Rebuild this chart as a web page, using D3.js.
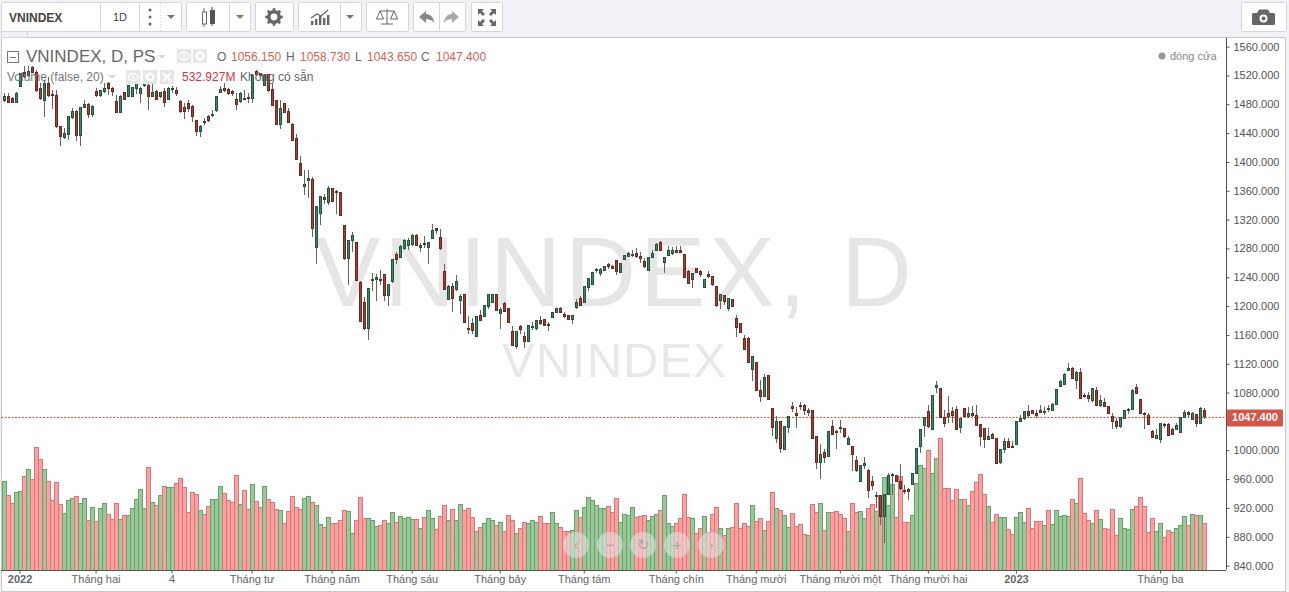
<!DOCTYPE html>
<html><head><meta charset="utf-8">
<script src="https://cdn.jsdelivr.net/npm/d3@7"></script>
<style>
html,body{margin:0;padding:0;background:#f1f2f6;overflow:hidden}
svg{display:block;font-family:"Liberation Sans",Arial,sans-serif}
</style></head><body>
<svg id="c" width="1289" height="592"></svg>
<script>
const open=[
1486,1492,1489,1483,1505,1525,1520,1532,1525,1502,
1486,1509,1494,1493,1450,1434,1439,1462,1471,1437,
1476,1480,1467,1498,1493,1498,1509,1502,1484,1469,
1497,1491,1492,1502,1495,1506,1506,1491,1498,1491,
1498,1487,1502,1499,1485,1476,1482,1477,1458,1443,
1457,1464,1465,1472,1497,1502,1501,1498,1487,1484,
1489,1490,1489,1526,1523,1507,1522,1501,1486,1452,
1481,1470,1453,1433,1399,1366,1375,1376,1282,1329,
1351,1344,1364,1359,1358,1312,1266,1292,1289,1233,
1206,1169,1237,1237,1238,1244,1215,1235,1272,1268,
1281,1285,1286,1298,1282,1288,1282,1294,1308,1296,
1249,1210,1228,1223,1208,1216,1170,1177,1158,1187,
1186,1200,1205,1216,1190,1204,1197,1165,1145,1172,
1159,1152,1171,1170,1181,1182,1175,1185,1192,1197,
1189,1187,1182,1198,1211,1205,1227,1230,1250,1246,
1250,1258,1256,1264,1247,1265,1270,1271,1273,1270,
1262,1250,1268,1277,1289,1261,1271,1273,1278,1277,
1272,1249,1238,1253,1249,1226,1245,1241,1228,1209,
1215,1197,1210,1184,1176,1156,1155,1113,1122,1084,
1075,1104,1059,1017,1040,1002,1032,1061,1051,1063,
1062,1053,1056,1019,983,998,992,1034,1027,1032,
1031,1008,1006,987,957,980,972,957,936,938,
908,939,965,966,957,945,946,953,969,1006,
1035,1055,1030,1087,1086,1046,1052,1055,1057,1032,
1059,1047,1052,1049,1036,1031,1015,1022,1017,983,
1001,1013,1006,1009,1040,1044,1054,1056,1052,1056,
1053,1059,1056,1064,1089,1092,1111,1114,1097,1109,
1077,1076,1069,1084,1062,1067,1061,1048,1041,1033,
1045,1056,1057,1088,1071,1052,1049,1027,1017,1015,
1036,1036,1030,1030,1025,1046,1053,1043,1050,1038,
1056.15];
const high=[
1496,1496,1490,1497,1524,1534,1534,1534,1528,1510,
1514,1519,1500,1501,1450,1447,1464,1475,1473,1477,
1487,1483,1480,1503,1500,1510,1511,1505,1493,1493,
1498,1507,1505,1513,1505,1517,1514,1519,1500,1498,
1503,1504,1506,1504,1487,1483,1486,1480,1459,1452,
1461,1466,1472,1492,1506,1510,1503,1500,1496,1497,
1501,1496,1523,1528,1524,1523,1523,1510,1487,1487,
1483,1476,1454,1439,1409,1389,1390,1379,1339,1353,
1356,1367,1364,1361,1358,1312,1291,1303,1289,1236,
1213,1225,1247,1245,1250,1244,1231,1265,1276,1285,
1293,1295,1300,1300,1288,1298,1290,1314,1309,1307,
1259,1230,1232,1244,1218,1218,1187,1184,1187,1195,
1201,1218,1218,1218,1200,1206,1198,1173,1165,1175,
1165,1174,1179,1180,1187,1182,1179,1193,1198,1200,
1193,1187,1188,1211,1214,1228,1240,1248,1254,1253,
1256,1260,1258,1265,1260,1272,1275,1278,1281,1275,
1267,1268,1278,1288,1291,1269,1284,1282,1284,1284,
1273,1250,1247,1254,1251,1238,1249,1242,1228,1216,
1216,1211,1210,1188,1177,1160,1157,1132,1123,1098,
1107,1105,1059,1048,1040,1033,1048,1067,1061,1068,
1065,1059,1057,1019,1009,1002,1026,1043,1029,1042,
1032,1020,1007,993,980,991,975,965,943,938,
940,969,969,966,982,952,948,969,1003,1030,
1046,1063,1077,1097,1086,1057,1076,1060,1062,1046,
1059,1060,1062,1063,1036,1031,1031,1025,1017,1003,
1017,1018,1014,1041,1049,1055,1063,1057,1057,1063,
1060,1063,1066,1085,1098,1108,1121,1116,1110,1114,
1080,1082,1087,1089,1077,1073,1062,1052,1045,1047,
1057,1059,1086,1092,1071,1053,1052,1029,1030,1039,
1039,1038,1031,1039,1046,1056,1055,1053,1051,1060,
1058.73];
const low=[
1484,1482,1482,1482,1504,1517,1518,1524,1498,1487,
1463,1491,1474,1447,1423,1432,1431,1460,1430,1423,
1475,1462,1463,1491,1490,1496,1493,1492,1468,1468,
1487,1490,1491,1495,1482,1504,1472,1490,1486,1489,
1477,1487,1496,1492,1469,1460,1470,1456,1437,1435,
1452,1456,1463,1470,1496,1498,1494,1492,1472,1483,
1486,1483,1482,1520,1517,1506,1498,1478,1452,1446,
1468,1454,1429,1403,1382,1355,1350,1297,1259,1313,
1342,1341,1345,1329,1326,1264,1230,1276,1236,1179,
1168,1154,1221,1208,1230,1207,1201,1232,1259,1267,
1279,1278,1284,1284,1275,1281,1259,1293,1300,1279,
1223,1209,1193,1221,1190,1178,1162,1162,1158,1181,
1186,1197,1205,1194,1169,1192,1178,1146,1141,1162,
1143,1151,1168,1168,1175,1173,1166,1184,1191,1191,
1184,1182,1176,1197,1202,1205,1222,1230,1246,1243,
1249,1252,1252,1244,1247,1264,1269,1269,1267,1261,
1253,1250,1267,1277,1278,1247,1271,1272,1274,1274,
1240,1231,1226,1246,1241,1226,1240,1229,1199,1197,
1202,1194,1199,1157,1164,1140,1123,1097,1083,1068,
1074,1071,1021,1011,997,1001,1024,1053,1032,1056,
1050,1048,1016,975,961,983,991,1023,1002,1024,
1017,1008,972,971,956,975,934,945,920,897,
872,939,939,956,945,940,932,953,969,997,
1019,1032,1030,1080,1046,1033,1038,1038,1030,1024,
1046,1046,1047,1034,1007,1004,1015,1016,982,982,
997,1005,1005,1009,1040,1043,1045,1051,1045,1052,
1049,1054,1055,1064,1088,1092,1110,1099,1086,1072,
1073,1068,1068,1062,1061,1060,1051,1030,1030,1032,
1044,1051,1056,1079,1051,1030,1036,1017,1017,1011,
1032,1020,1022,1030,1025,1045,1045,1042,1033,1037,
1043.65];
const close=[
1492,1483,1483,1496,1523,1519,1526,1525,1500,1489,
1509,1493,1493,1450,1436,1440,1463,1471,1437,1476,
1480,1467,1477,1493,1499,1503,1503,1498,1469,1491,
1487,1506,1504,1509,1502,1511,1491,1497,1487,1497,
1483,1503,1503,1495,1470,1470,1475,1463,1443,1450,
1456,1458,1467,1492,1501,1499,1495,1495,1480,1496,
1487,1488,1521,1522,1520,1521,1499,1479,1453,1475,
1469,1455,1430,1404,1382,1369,1377,1308,1339,1352,
1348,1364,1345,1358,1326,1266,1291,1299,1236,1179,
1169,1225,1238,1240,1237,1215,1231,1265,1265,1283,
1292,1291,1298,1285,1285,1287,1289,1306,1305,1280,
1223,1228,1211,1234,1214,1178,1169,1167,1186,1181,
1201,1216,1216,1194,1196,1193,1178,1146,1165,1168,
1152,1173,1172,1180,1176,1173,1174,1192,1197,1192,
1186,1182,1188,1206,1202,1228,1239,1247,1252,1251,
1255,1255,1253,1248,1260,1271,1273,1272,1270,1266,
1256,1268,1274,1286,1278,1268,1277,1278,1275,1275,
1240,1232,1246,1247,1245,1238,1242,1230,1202,1216,
1207,1211,1200,1171,1164,1140,1123,1130,1083,1075,
1102,1071,1032,1040,1003,1033,1048,1058,1049,1061,
1056,1056,1017,983,995,990,1026,1023,1026,1031,
1019,1017,994,972,979,982,945,951,938,908,
939,966,967,957,948,943,944,969,1003,1030,
1046,1033,1077,1091,1046,1037,1047,1049,1030,1045,
1047,1052,1049,1035,1019,1016,1020,1017,982,1002,
1013,1005,1005,1041,1044,1054,1049,1052,1049,1053,
1054,1057,1064,1085,1096,1106,1114,1100,1109,1072,
1075,1073,1086,1063,1070,1061,1051,1041,1034,1046,
1056,1057,1084,1079,1051,1050,1036,1018,1021,1038,
1035,1021,1023,1035,1046,1053,1050,1051,1037,1059,
1047.4];
const volume=[
1012,852,761,886,898,1069,1149,1035,1400,1263,
1149,1012,795,1000,749,647,795,818,841,761,
818,567,715,555,704,761,635,578,761,578,
624,624,704,806,921,704,1172,772,738,852,
955,943,943,989,1046,943,658,886,864,681,
635,727,806,806,955,875,795,772,1080,749,
909,692,978,784,715,955,806,772,692,681,
533,670,841,715,692,818,841,772,738,521,
487,601,533,533,567,681,670,418,567,829,
590,590,567,498,510,567,533,658,544,612,
590,601,578,578,476,601,681,590,464,612,
738,567,692,567,749,681,704,601,441,487,
533,590,567,510,544,441,624,567,418,476,
544,533,567,544,612,533,533,658,533,487,
441,441,453,681,601,715,829,795,738,704,
704,727,658,818,544,635,624,715,601,612,
624,567,612,635,681,852,533,498,533,590,
864,601,590,418,476,612,430,635,715,476,
396,476,487,761,476,533,498,738,555,590,
453,555,886,704,681,624,487,647,498,521,
407,396,749,658,761,453,658,658,670,628,
593,445,761,658,670,590,704,749,670,852,
1058,738,978,601,1069,544,544,624,989,1194,
1160,1366,1103,1274,1503,932,932,795,921,806,
806,738,898,1000,1092,864,727,544,635,601,
601,464,407,601,658,544,704,476,555,555,
510,681,521,681,612,624,612,806,761,1046,
647,567,533,681,578,476,464,692,396,590,
476,464,692,727,829,727,430,590,441,533,
373,453,430,476,510,612,510,635,624,624,
532.927];
const priceTicks=[840,880,920,960,1000,1080,1120,1160,1200,1240,1280,1320,1360,1400,1440,1480,1520,1560];
const timeTickIndex=[4,23,42,62,82,102,124,145,168,188,209,231,253,289];
const timeTickLabels=["2022","Tháng hai","4","Tháng tư","Tháng năm","Tháng sáu","Tháng bảy","Tháng tám","Tháng chín","Tháng mười","Tháng mười một","Tháng mười hai","2023","Tháng ba"];
const boldLabels=["2022","2023"];
const lastClose=1047.4;

const svg=d3.select("#c");
const x=d3.scaleLinear().domain([0,300]).range([3.5,1204]);
const y=d3.scaleLinear().domain([840,1560]).range([566,47]);
const v=d3.scaleLinear().domain([0,532.927]).range([570,523.3]);
const idx=d3.range(open.length);
const up=i=>close[i]>=open[i];

// page and pane
svg.append("rect").attr("width",1289).attr("height",592).attr("fill","#f1f2f6");
svg.append("rect").attr("x",1.5).attr("y",37.5).attr("width",1284).attr("height",554).attr("fill","#fff").attr("stroke","#c9c9c9");

// watermarks
svg.append("text").attr("x",315).attr("y",306).attr("font-size",98).attr("letter-spacing",4).attr("fill","#e6e6e6").text("VNINDEX, D");
svg.append("text").attr("x",502).attr("y",377).attr("font-size",49).attr("letter-spacing",1).attr("fill","#e8e8e8").text("VNINDEX");

// volume
svg.append("g").selectAll("rect").data(idx).join("rect")
 .attr("x",i=>Math.round(x(i))-2+.5).attr("width",4)
 .attr("y",i=>v(volume[i])).attr("height",i=>570-v(volume[i]))
 .attr("fill",i=>up(i)?"#5aa85a":"#ff6666").attr("fill-opacity",.62)
 .attr("stroke",i=>up(i)?"#6d9f6d":"#d27a7a").attr("stroke-width",1)
 .attr("shape-rendering","crispEdges");

// last price line
svg.append("line").attr("x1",1).attr("x2",1226).attr("y1",417.5).attr("y2",417.5)
 .attr("stroke","#c4503f").attr("stroke-dasharray","2,1.5")
 .attr("transform",`translate(0,${y(lastClose)-416.6})`);

// candles
const cg=svg.append("g").attr("shape-rendering","crispEdges");
cg.selectAll("line").data(idx).join("line")
 .attr("x1",i=>Math.round(x(i))+.5).attr("x2",i=>Math.round(x(i))+.5)
 .attr("y1",i=>y(high[i])).attr("y2",i=>y(low[i])).attr("stroke","#6a6258");
cg.selectAll("rect").data(idx).join("rect")
 .attr("x",i=>Math.round(x(i))-.5).attr("width",2)
 .attr("y",i=>y(Math.max(open[i],close[i]))).attr("height",i=>Math.max(1,Math.abs(y(open[i])-y(close[i]))))
 .attr("fill",i=>up(i)?"#3a8a60":"#b23a30")
 .attr("stroke",i=>up(i)?"#24523f":"#642a25");

// axes
const yAxis=svg.append("g").attr("transform","translate(1226.5,-0.4)").call(d3.axisRight(y).tickValues(priceTicks).tickFormat(d3.format(".3f")).tickSize(3).tickPadding(4));
yAxis.select(".domain").attr("d","M0,38V570").attr("stroke","#555");
yAxis.selectAll(".tick line").attr("stroke","#555");
yAxis.selectAll("text").attr("font-size",11).attr("font-family","Liberation Sans").attr("fill","#555");

const xAxis=svg.append("g").attr("transform","translate(0,570.5)").call(d3.axisBottom(x).tickValues(timeTickIndex).tickFormat((d,i)=>timeTickLabels[i]).tickSize(3).tickPadding(2));
xAxis.select(".domain").attr("d","M1,0H1226").attr("stroke","#555");
xAxis.selectAll(".tick line").attr("stroke","#555");
xAxis.selectAll("text").attr("font-size",11).attr("font-family","Liberation Sans").attr("fill","#666")
 .attr("font-weight",(d,i)=>boldLabels.includes(timeTickLabels[i])?"bold":"normal");

// last price tag
svg.append("rect").attr("x",1227).attr("y",y(lastClose)-7).attr("width",56).attr("height",17).attr("rx",1).attr("fill","#d4564a");
svg.append("text").attr("x",1255).attr("y",y(lastClose)+5).attr("text-anchor","middle").attr("font-size",11).attr("font-weight","bold").attr("fill","#fff").text(d3.format(".3f")(lastClose));

// legend
const txt=(xp,yp,s,size,fill,extra)=>{const t=svg.append("text").attr("x",xp).attr("y",yp).attr("font-size",size).attr("fill",fill).text(s);if(extra)t.attr("font-weight",extra);return t;};
svg.append("rect").attr("x",7.5).attr("y",51.5).attr("width",11).attr("height",11).attr("fill","none").attr("stroke","#777");
svg.append("line").attr("x1",10).attr("x2",16).attr("y1",57.5).attr("y2",57.5).attr("stroke","#777");
txt(26,62,"VNINDEX, D, PS",17,"#666");
const caret=(cx,cy,c)=>svg.append("path").attr("d",`M${cx-4},${cy-2}h8l-4,4z`).attr("fill",c);
caret(162,57,"#d8d8d8");
const ibtn=(bx,by,kind)=>{
 svg.append("rect").attr("x",bx).attr("y",by).attr("width",14).attr("height",14).attr("fill","#e6e6e6");
 if(kind==="eye"){svg.append("ellipse").attr("cx",bx+7).attr("cy",by+7).attr("rx",5).attr("ry",3.5).attr("fill","none").attr("stroke","#fff").attr("stroke-width",1.4);svg.append("circle").attr("cx",bx+7).attr("cy",by+7).attr("r",1.5).attr("fill","#fff");}
 if(kind==="gear"){svg.append("circle").attr("cx",bx+7).attr("cy",by+7).attr("r",3.4).attr("fill","none").attr("stroke","#fff").attr("stroke-width",2.2);}
 if(kind==="x"){svg.append("path").attr("d",`M${bx+3},${by+3}l8,8m0,-8l-8,8`).attr("stroke","#fff").attr("stroke-width",1.8);}
};
ibtn(177,49,"eye");ibtn(193,49,"gear");
txt(217,61,"O",12,"#666");txt(231,61,"1056.150",12,"#d95f55");
txt(286,61,"H",12,"#666");txt(300,61,"1058.730",12,"#d95f55");
txt(355,61,"L",12,"#666");txt(367,61,"1043.650",12,"#d95f55");
txt(421,61,"C",12,"#666");txt(436,61,"1047.400",12,"#d95f55");
txt(7,81,"Volume (false, 20)",12,"#777");
caret(112,77,"#d8d8d8");
ibtn(126,70,"eye");ibtn(143,70,"gear");ibtn(160,70,"x");
txt(182,81,"532.927M",12,"#d0344a");
txt(240,81,"Không có sẵn",12,"#666");
svg.append("circle").attr("cx",1162).attr("cy",56).attr("r",3.5).attr("fill","#999");
txt(1170,59.5,"đóng cửa",11,"#888");

// zoom buttons
const btnX=[576,610,643,677,711], btnG=["‹","−","↻","+","›"];
svg.append("g").selectAll("g").data(btnX).join("g").each(function(d,i){
 const g=d3.select(this);
 g.append("circle").attr("cx",d).attr("cy",545).attr("r",13).attr("fill","#e4e4e4").attr("fill-opacity",.55);
 g.append("text").attr("x",d).attr("y",550).attr("text-anchor","middle").attr("font-size",15).attr("fill","#aaa").text(btnG[i]);
});

// toolbar
const box=(bx,w,by=2.5,h=29)=>svg.append("rect").attr("x",bx+.5).attr("y",by).attr("width",w).attr("height",h).attr("fill","#fff").attr("stroke","#d4d6db").attr("rx",1);
const div=(dx,dash)=>{const l=svg.append("line").attr("x1",dx+.5).attr("x2",dx+.5).attr("y1",3).attr("y2",31).attr("stroke","#d4d6db");if(dash)l.attr("stroke-dasharray","1,2");};
box(1,180);div(100);div(139);div(160,true);
txt(9,22,"VNINDEX",12,"#444","bold");
txt(113,21,"1D",11,"#444");
[10,17,24].forEach(dy=>svg.append("circle").attr("cx",150).attr("cy",dy).attr("r",1.5).attr("fill","#666"));
caret(171,17,"#777");
box(186,64);div(229);
svg.append("line").attr("x1",204).attr("x2",204).attr("y1",8).attr("y2",27).attr("stroke","#666");
svg.append("rect").attr("x",202.5).attr("y",12).attr("width",4).attr("height",12).attr("fill","#fff").attr("stroke","#666");
svg.append("line").attr("x1",212).attr("x2",212).attr("y1",7).attr("y2",26).attr("stroke","#555");
svg.append("rect").attr("x",210).attr("y",10).attr("width",5).attr("height",14).attr("fill","#555");
caret(240,17,"#777");
box(255,38);
svg.append("circle").attr("cx",274).attr("cy",17).attr("r",5.2).attr("fill","none").attr("stroke","#666").attr("stroke-width",3.6);
d3.range(8).forEach(k=>{const a=k*Math.PI/4;svg.append("line").attr("x1",274+6*Math.cos(a)).attr("y1",17+6*Math.sin(a)).attr("x2",274+8.8*Math.cos(a)).attr("y2",17+8.8*Math.sin(a)).attr("stroke","#666").attr("stroke-width",2.6);});
box(298,63);div(340);
[[311,4],[315,6],[319,9],[323,7],[327,10]].forEach(([bx,h])=>svg.append("rect").attr("x",bx).attr("y",25-h).attr("width",2.4).attr("height",h).attr("fill","#666"));
svg.append("path").attr("d","M311,18L317,14L321,16L328,10").attr("fill","none").attr("stroke","#666").attr("stroke-width",1.2);
caret(350,17,"#777");
box(366,42);
svg.append("path").attr("d","M387,9V24M381,24h12M380,11h14M380,11l-3.5,8h7zM394,11l-3.5,8h7z").attr("fill","none").attr("stroke","#666");
box(413,52);div(439);
svg.append("path").attr("d","M426,11l-7,6l7,6v-4c3,0,6,1,8,4c0,-5,-3,-9,-8,-9z").attr("fill","#888");
svg.append("path").attr("d","M452,11l7,6l-7,6v-4c-3,0,-6,1,-8,4c0,-5,3,-9,8,-9z").attr("fill","#aaa");
box(471,31);
svg.append("path").attr("d","M478,9h6l-2,2l3,3l-2,2l-3,-3l-2,2zM496,9v6l-2,-2l-3,3l-2,-2l3,-3l-2,-2zM478,26v-6l2,2l3,-3l2,2l-3,3l2,2zM496,26h-6l2,-2l-3,-3l2,-2l3,3l2,-2z").attr("fill","#666");
box(1241,45);
svg.append("path").attr("d","M1257,13l2,-3.5h9l2,3.5h3.5a1.5,1.5,0,0,1,1.5,1.5v9a1.5,1.5,0,0,1,-1.5,1.5h-20a1.5,1.5,0,0,1,-1.5,-1.5v-9a1.5,1.5,0,0,1,1.5,-1.5z").attr("fill","#666");
svg.append("circle").attr("cx",1263.5).attr("cy",18.5).attr("r",4).attr("fill","#fff");
svg.append("circle").attr("cx",1263.5).attr("cy",18.5).attr("r",2).attr("fill","#666");
svg.append("rect").attr("x",1.5).attr("y",31.5).attr("width",26).attr("height",6).attr("fill","#f1f2f6").attr("stroke","#d4d6db");
</script>
</body></html>
